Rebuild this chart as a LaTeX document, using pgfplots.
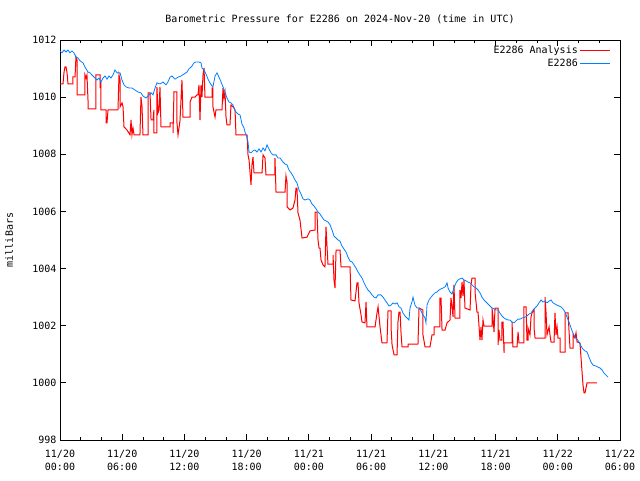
\documentclass[border=0pt]{standalone}
\usepackage{fontspec}
\setmainfont{DejaVu Sans Mono}
\usepackage{pgfplots}
\pgfplotsset{compat=1.18}
\definecolor{redline}{RGB}{255,0,0}
\definecolor{blueline}{RGB}{0,128,255}
\begin{document}
\begin{tikzpicture}[font=\fontsize{10pt}{12pt}\selectfont]
\path[use as bounding box] (0,0) rectangle (640pt,480pt);
\begin{axis}[
  at={(60pt,40pt)}, anchor=south west,
  scale only axis, width=560pt, height=400pt,
  xmin=0, xmax=54, ymin=998, ymax=1012,
  xtick={0,6,...,54},
  xticklabels={{11/20\\00:00},{11/20\\06:00},{11/20\\12:00},{11/20\\18:00},{11/21\\00:00},{11/21\\06:00},{11/21\\12:00},{11/21\\18:00},{11/22\\00:00},{11/22\\06:00}},
  xticklabel style={align=center, font=\fontsize{10pt}{12.5pt}\selectfont, yshift=-7pt},
  minor x tick num=2,
  ytick={998,1000,...,1012},
  yticklabel style={/pgf/number format/.cd, fixed, 1000 sep={}},
  /pgf/number format/assume math mode=true,
  tick align=inside,
  major tick length=6pt, minor tick length=3pt,
  tick style={black, line width=0.8pt},
  axis line style={black, line width=0.8pt},
  title={Barometric Pressure for E2286 on 2024-Nov-20 (time in UTC)},
  title style={at={(0.5,1)}, anchor=base, yshift=11pt},
  ylabel={milliBars},
  ylabel style={at={(axis description cs:-0.091,0.5)}, anchor=center},
  legend style={at={(1,1)}, anchor=north east, xshift=-8pt, yshift=-3pt, draw=none, fill=none, row sep=0pt, inner sep=1pt},
  legend cell align=right,
  legend plot pos=right,
  legend image code/.code={\draw[#1] (0pt,0pt) -- (30pt,0pt);},
]
\addplot[redline, line width=1pt, mark=none] coordinates {
(0,1010.46) (0.29,1010.46) (0.39,1010.88) (0.48,1011.06) (0.58,1011.06) (0.68,1010.85) (0.77,1010.46) (1.25,1010.46) (1.25,1010.71) (1.45,1010.71)
(1.54,1011.41) (1.64,1011.3) (1.64,1010.08) (1.74,1010.08) (2.41,1010.08) (2.41,1010.78) (2.51,1010.67) (2.60,1010.78) (2.70,1009.9) (2.70,1009.59)
(3.47,1009.59) (3.47,1010.78) (3.86,1010.78) (3.86,1010.32) (3.95,1010.53) (3.95,1009.55) (4.34,1009.55) (4.44,1009.55) (4.44,1009.1) (4.53,1009.1)
(4.63,1009.55) (5.59,1009.55) (5.69,1010.78) (5.79,1010.6) (5.79,1009.66) (5.98,1009.8) (6.08,1009.66) (6.17,1008.96) (6.46,1008.85) (6.75,1008.68)
(6.85,1009.2) (6.94,1008.68) (7.04,1008.92) (7.14,1008.68) (7.71,1008.68) (7.81,1010.0) (7.91,1009.66) (8.0,1008.68) (8.49,1008.68) (8.49,1010.15)
(8.68,1010.15) (8.78,1009.2) (8.97,1009.2) (9.06,1009.55) (9.06,1008.75) (9.35,1008.75) (9.35,1010.36) (9.45,1009.45) (9.55,1009.55) (9.64,1010.36)
(9.74,1008.96) (10.61,1008.96) (10.61,1009.1) (10.9,1009.1) (10.9,1008.75) (10.99,1010.18) (11.28,1010.18) (11.28,1009.1) (11.38,1008.68) (11.57,1009.17)
(11.76,1010.6) (11.86,1009.3) (12.54,1009.3) (12.54,1009.83) (12.73,1010.0) (13.02,1010.0) (13.21,1010.08) (13.31,1010.08) (13.40,1010.43) (13.50,1009.2)
(13.60,1010.43) (13.69,1010.0) (13.79,1010.78) (13.89,1011.02) (13.98,1010.0) (14.66,1010.0) (14.66,1010.32) (14.75,1010.32) (14.75,1009.66) (14.95,1009.3)
(15.04,1009.55) (15.62,1009.55) (15.72,1010.32) (15.81,1009.97) (15.91,1010.18) (16.01,1009.3) (16.10,1009.03) (16.39,1009.03) (16.49,1009.73) (16.78,1009.62)
(16.88,1009.55) (16.97,1008.68) (18.03,1008.68) (18.13,1007.98) (18.23,1007.8) (18.32,1007.38) (18.42,1006.93) (18.51,1007.63) (18.61,1007.9) (18.71,1007.35)
(19.48,1007.35) (19.58,1007.98) (19.77,1007.87) (19.86,1007.28) (20.73,1007.28) (20.73,1007.87) (20.83,1006.68) (21.70,1006.68) (21.79,1007.24) (21.89,1007.03)
(21.89,1006.16) (22.18,1006.05) (22.47,1006.12) (22.66,1006.4) (22.76,1006.82) (22.85,1006.82) (22.95,1005.95) (23.14,1005.7) (23.34,1005.07) (23.82,1005.1)
(24.11,1005.32) (24.59,1005.35) (24.59,1005.98) (24.78,1005.98) (24.88,1005.0) (24.98,1004.72) (25.07,1004.72) (25.17,1004.3) (25.36,1004.13) (25.55,1004.06)
(25.65,1005.46) (25.75,1004.76) (25.84,1004.16) (26.33,1004.16) (26.33,1004.48) (26.42,1003.6) (26.52,1003.32) (26.62,1004.65) (27.0,1004.65) (27.10,1004.06)
(27.97,1004.06) (28.06,1002.9) (28.45,1002.87) (28.64,1003.5) (28.74,1003.5) (28.83,1002.8) (29.03,1002.38) (29.12,1002.13) (29.41,1002.1) (29.51,1002.83)
(29.6,1001.96) (30.38,1001.96) (30.57,1002.45) (30.67,1002.66) (30.86,1001.96) (31.05,1001.4) (31.53,1001.4) (31.63,1002.52) (31.92,1002.52) (31.92,1001.96)
(32.02,1001.33) (32.21,1000.98) (32.5,1000.98) (32.59,1002.13) (32.69,1002.48) (32.79,1002.48) (32.88,1001.78) (32.98,1001.26) (33.56,1001.26) (33.56,1001.36)
(34.52,1001.36) (34.62,1002.62) (35.0,1002.55) (35.0,1001.68) (35.2,1001.26) (35.68,1001.26) (35.87,1001.68) (36.07,1001.68) (36.07,1001.96) (36.64,1001.96)
(36.64,1002.97) (36.74,1002.97) (36.84,1001.85) (37.13,1001.85) (37.32,1002.1) (37.61,1002.2) (37.7,1002.97) (37.8,1002.69) (37.9,1002.31) (37.99,1003.43)
(38.09,1002.27) (38.57,1002.27) (38.57,1003.25) (38.67,1002.97) (38.77,1003.53) (38.86,1003.04) (38.96,1003.6) (39.05,1002.62) (39.54,1002.55) (39.63,1003.43)
(39.73,1003.67) (40.02,1003.67) (40.02,1003.18) (40.21,1002.48) (40.31,1002.48) (40.5,1001.5) (40.6,1001.96) (40.69,1001.5) (40.79,1002.2) (40.89,1001.99)
(41.66,1001.99) (41.66,1002.62) (41.76,1002.27) (41.85,1001.78) (41.95,1002.62) (42.24,1002.62) (42.24,1001.33) (42.33,1001.85) (42.43,1001.5) (42.62,1001.5)
(42.62,1002.13) (42.72,1002.13) (42.82,1001.05) (42.82,1001.4) (43.59,1001.4) (43.59,1002.13) (43.68,1001.26) (44.07,1001.26) (44.17,1001.78) (44.26,1001.4)
(44.74,1001.4) (44.74,1002.66) (44.94,1002.66) (45.03,1001.5) (45.13,1001.5) (45.13,1001.92) (45.32,1001.68) (45.42,1002.31) (45.52,1002.45) (45.71,1002.55)
(45.71,1001.92) (45.81,1001.57) (46.77,1001.57) (46.77,1003.0) (46.87,1002.45) (46.96,1001.68) (47.16,1001.96) (47.25,1001.68) (47.35,1001.43) (47.64,1001.43)
(47.73,1002.45) (47.83,1001.68) (47.93,1001.96) (48.02,1001.57) (48.22,1001.57) (48.22,1001.08) (48.7,1001.08) (48.7,1002.45) (48.99,1002.45) (49.08,1001.85)
(49.18,1001.22) (49.47,1001.22) (49.47,1001.68) (49.66,1001.57) (49.76,1001.75) (49.86,1001.43) (50.14,1001.4) (50.34,1000.38) (50.43,999.93) (50.53,999.65)
(50.63,999.65) (50.72,999.82) (50.82,1000.0) (51.78,1000.0)
};
\addlegendentry{E2286 Analysis}
\addplot[blueline, line width=0.8pt, mark=none] coordinates {
(0,1011.62) (0.19,1011.55) (0.39,1011.65) (0.58,1011.58) (0.77,1011.65) (0.96,1011.55) (1.16,1011.62) (1.35,1011.55) (1.54,1011.4) (1.74,1011.37)
(1.93,1011.27) (2.22,1011.2) (2.41,1011.05) (2.70,1010.88) (2.89,1010.85) (3.18,1010.74) (3.38,1010.67) (3.57,1010.6) (3.76,1010.67) (3.95,1010.53)
(4.15,1010.67) (4.34,1010.74) (4.53,1010.63) (4.73,1010.74) (4.92,1010.67) (5.11,1010.78) (5.30,1010.95) (5.50,1010.85) (5.79,1010.85) (5.98,1010.6)
(6.17,1010.43) (6.36,1010.36) (6.65,1010.32) (6.94,1010.32) (7.23,1010.25) (7.52,1010.18) (7.81,1010.15) (8.00,1010.04) (8.29,1009.97) (8.49,1010.04)
(8.78,1010.15) (8.97,1010.08) (9.16,1010.32) (9.35,1010.5) (9.64,1010.46) (9.93,1010.53) (10.22,1010.43) (10.41,1010.53) (10.61,1010.7) (10.80,1010.74)
(11.09,1010.63) (11.38,1010.7) (11.67,1010.74) (11.96,1010.81) (12.25,1010.88) (12.44,1010.99) (12.73,1011.09) (12.92,1011.2) (13.11,1011.23) (13.40,1011.23)
(13.60,1011.2) (13.69,1011.02) (13.89,1010.95) (14.08,1010.81) (14.27,1010.63) (14.46,1010.5) (14.66,1010.39) (14.75,1010.36) (14.95,1010.74) (15.14,1010.85)
(15.33,1010.7) (15.53,1010.53) (15.72,1010.36) (15.91,1010.18) (16.10,1009.97) (16.30,1009.83) (16.49,1009.8) (16.68,1009.73) (16.88,1009.52) (17.16,1009.41)
(17.36,1009.38) (17.55,1009.06) (17.74,1008.92) (17.84,1008.78) (18.03,1008.6) (18.13,1008.43) (18.23,1008.08) (18.42,1008.05) (18.61,1008.12) (18.80,1008.15)
(19.00,1008.08) (19.19,1008.19) (19.38,1008.08) (19.58,1008.22) (19.77,1008.12) (19.96,1008.33) (20.15,1008.19) (20.35,1008.05) (20.54,1007.98) (20.83,1007.98)
(21.02,1007.87) (21.22,1007.87) (21.50,1007.73) (21.70,1007.66) (21.89,1007.63) (22.08,1007.45) (22.28,1007.35) (22.47,1007.24) (22.66,1007.1) (22.85,1007.0)
(23.05,1006.75) (23.24,1006.61) (23.43,1006.44) (23.63,1006.4) (23.92,1006.44) (24.11,1006.4) (24.30,1006.26) (24.49,1006.19) (24.69,1006.09) (24.88,1005.98)
(25.07,1005.91) (25.27,1005.8) (25.46,1005.7) (25.65,1005.67) (25.84,1005.63) (26.04,1005.53) (26.23,1005.35) (26.42,1005.14) (26.62,1005.07) (26.81,1005.0)
(27.0,1004.96) (27.19,1004.79) (27.39,1004.68) (27.58,1004.58) (27.77,1004.4) (27.97,1004.26) (28.16,1004.23) (28.35,1004.13) (28.54,1004.02) (28.74,1003.88)
(28.93,1003.77) (29.12,1003.67) (29.32,1003.5) (29.51,1003.36) (29.70,1003.25) (29.89,1003.18) (30.09,1003.08) (30.28,1003.0) (30.47,1002.97) (30.67,1003.08)
(30.95,1003.08) (31.15,1003.0) (31.34,1002.9) (31.53,1002.8) (31.73,1002.69) (31.92,1002.72) (32.11,1002.8) (32.30,1002.76) (32.50,1002.8) (32.69,1002.66)
(32.88,1002.62) (33.08,1002.44) (33.27,1002.34) (33.46,1002.27) (33.65,1002.2) (33.75,1002.62) (33.94,1002.83) (34.04,1003.0) (34.23,1002.72) (34.43,1002.62)
(34.62,1002.62) (34.81,1002.52) (35.0,1002.38) (35.2,1002.27) (35.29,1002.1) (35.39,1002.72) (35.58,1002.9) (35.78,1003.0) (35.97,1003.08) (36.16,1003.15)
(36.35,1003.18) (36.55,1003.25) (36.74,1003.29) (36.93,1003.32) (37.13,1003.36) (37.32,1003.5) (37.42,1003.32) (37.61,1003.18) (37.80,1003.11) (37.99,1003.32)
(38.19,1003.5) (38.38,1003.6) (38.57,1003.64) (38.77,1003.67) (38.96,1003.6) (39.15,1003.57) (39.34,1003.53) (39.54,1003.5) (39.73,1003.43) (39.92,1003.36)
(40.12,1003.32) (40.31,1003.25) (40.50,1003.15) (40.69,1003.0) (40.89,1002.9) (41.08,1002.83) (41.27,1002.76) (41.47,1002.69) (41.66,1002.62) (41.85,1002.59)
(42.05,1002.55) (42.24,1002.55) (42.43,1002.44) (42.62,1002.34) (42.82,1002.27) (43.01,1002.23) (43.20,1002.2) (43.39,1002.2) (43.59,1002.13) (43.78,1002.1)
(43.97,1002.17) (44.17,1002.23) (44.36,1002.23) (44.55,1002.27) (44.84,1002.3) (45.03,1002.34) (45.23,1002.41) (45.42,1002.44) (45.61,1002.55) (45.80,1002.62)
(46.0,1002.69) (46.19,1002.8) (46.38,1002.9) (46.58,1002.83) (46.77,1002.86) (46.96,1002.8) (47.16,1002.86) (47.35,1002.9) (47.54,1002.8) (47.73,1002.76)
(47.93,1002.72) (48.12,1002.69) (48.31,1002.66) (48.50,1002.59) (48.70,1002.48) (48.89,1002.3) (49.08,1002.13) (49.28,1001.92) (49.47,1001.74) (49.66,1001.6)
(49.86,1001.53) (50.05,1001.43) (50.24,1001.29) (50.43,1001.18) (50.63,1001.12) (50.82,1001.08) (51.01,1000.9) (51.20,1000.73) (51.40,1000.62) (51.69,1000.59)
(51.88,1000.55) (52.07,1000.52) (52.27,1000.45) (52.46,1000.34) (52.65,1000.27) (52.84,1000.2)
};
\addlegendentry{E2286}
\end{axis}
\end{tikzpicture}
\end{document}
